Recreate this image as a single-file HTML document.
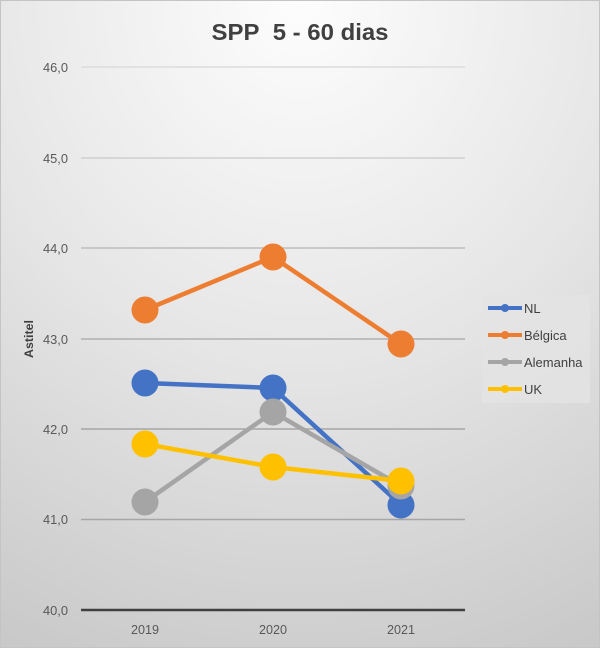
<!DOCTYPE html>
<html><head><meta charset="utf-8"><style>
html,body{margin:0;padding:0;}
body{width:600px;height:648px;overflow:hidden;}
.c{position:relative;width:598px;height:646px;border:1px solid #c4c4c4;
background:radial-gradient(ellipse 110% 110% at 50% 0%, #fdfdfd 0%, #e6e6e6 50%, #c9c9c9 100%);}
svg{position:absolute;left:-1px;top:-1px;}
text{font-family:"Liberation Sans",sans-serif;}
</style></head><body><div class="c">
<svg width="600" height="648" viewBox="0 0 600 648">
<text x="300" y="40" text-anchor="middle" font-size="23" font-weight="bold" fill="#404040" textLength="177" lengthAdjust="spacingAndGlyphs">SPP&#160; 5 - 60 dias</text>
<g stroke="#a6a6a6" stroke-width="1.5">
<line x1="81" y1="67" x2="465" y2="67" stroke="#dcdcdc"/>
<line x1="81" y1="158" x2="465" y2="158" stroke="#cfcfcf"/>
<line x1="81" y1="248" x2="465" y2="248" stroke="#bdbdbd"/>
<line x1="81" y1="339" x2="465" y2="339" stroke="#b0b0b0"/>
<line x1="81" y1="429" x2="465" y2="429"/>
<line x1="81" y1="519.5" x2="465" y2="519.5"/>
</g>
<line x1="81" y1="610" x2="465" y2="610" stroke="#404040" stroke-width="2.5"/>
<g font-size="13" fill="#595959" text-anchor="end">
<text x="68" y="72" textLength="25" lengthAdjust="spacingAndGlyphs">46,0</text>
<text x="68" y="163" textLength="25" lengthAdjust="spacingAndGlyphs">45,0</text>
<text x="68" y="253" textLength="25" lengthAdjust="spacingAndGlyphs">44,0</text>
<text x="68" y="344" textLength="25" lengthAdjust="spacingAndGlyphs">43,0</text>
<text x="68" y="434" textLength="25" lengthAdjust="spacingAndGlyphs">42,0</text>
<text x="68" y="524" textLength="25" lengthAdjust="spacingAndGlyphs">41,0</text>
<text x="68" y="615" textLength="25" lengthAdjust="spacingAndGlyphs">40,0</text>
</g>
<g font-size="13" fill="#595959" text-anchor="middle">
<text x="145" y="634" textLength="28" lengthAdjust="spacingAndGlyphs">2019</text>
<text x="273" y="634" textLength="28" lengthAdjust="spacingAndGlyphs">2020</text>
<text x="401" y="634" textLength="28" lengthAdjust="spacingAndGlyphs">2021</text>
</g>
<text transform="translate(33,339) rotate(-90)" text-anchor="middle" font-size="12" font-weight="bold" fill="#404040" textLength="38" lengthAdjust="spacingAndGlyphs">Astitel</text>
<!-- series -->
<polyline points="145,383 273,388 401,505" stroke="#4472C4" stroke-width="4.5" fill="none"/>
<g fill="#4472C4"><circle cx="145" cy="383" r="13.5"/><circle cx="273" cy="388" r="13.5"/><circle cx="401" cy="505" r="13.5"/></g>
<polyline points="145,310 273,257 401,344" stroke="#ED7D31" stroke-width="4.5" fill="none"/>
<g fill="#ED7D31"><circle cx="145" cy="310" r="13.5"/><circle cx="273" cy="257" r="13.5"/><circle cx="401" cy="344" r="13.5"/></g>
<polyline points="145,502 273,412 401,486" stroke="#A5A5A5" stroke-width="4.5" fill="none"/>
<g fill="#A5A5A5"><circle cx="145" cy="502" r="13.5"/><circle cx="273" cy="412" r="13.5"/><circle cx="401" cy="486" r="13.5"/></g>
<polyline points="145,444 273,467 401,481" stroke="#FFC000" stroke-width="4.5" fill="none"/>
<g fill="#FFC000"><circle cx="145" cy="444" r="13.5"/><circle cx="273" cy="467" r="13.5"/><circle cx="401" cy="481" r="13.5"/></g>
<!-- legend -->
<rect x="482" y="295" width="108" height="108" fill="#e4e4e4" opacity="0.8"/>
<g stroke-width="4">
<line x1="488" y1="308" x2="522" y2="308" stroke="#4472C4"/>
<line x1="488" y1="335" x2="522" y2="335" stroke="#ED7D31"/>
<line x1="488" y1="362" x2="522" y2="362" stroke="#A5A5A5"/>
<line x1="488" y1="389" x2="522" y2="389" stroke="#FFC000"/>
</g>
<circle cx="505" cy="308" r="4" fill="#4472C4"/>
<circle cx="505" cy="335" r="4" fill="#ED7D31"/>
<circle cx="505" cy="362" r="4" fill="#A5A5A5"/>
<circle cx="505" cy="389" r="4" fill="#FFC000"/>
<g font-size="13" fill="#404040">
<text x="524" y="313">NL</text>
<text x="524" y="340">Bélgica</text>
<text x="524" y="367">Alemanha</text>
<text x="524" y="394">UK</text>
</g>
</svg>
</div></body></html>
